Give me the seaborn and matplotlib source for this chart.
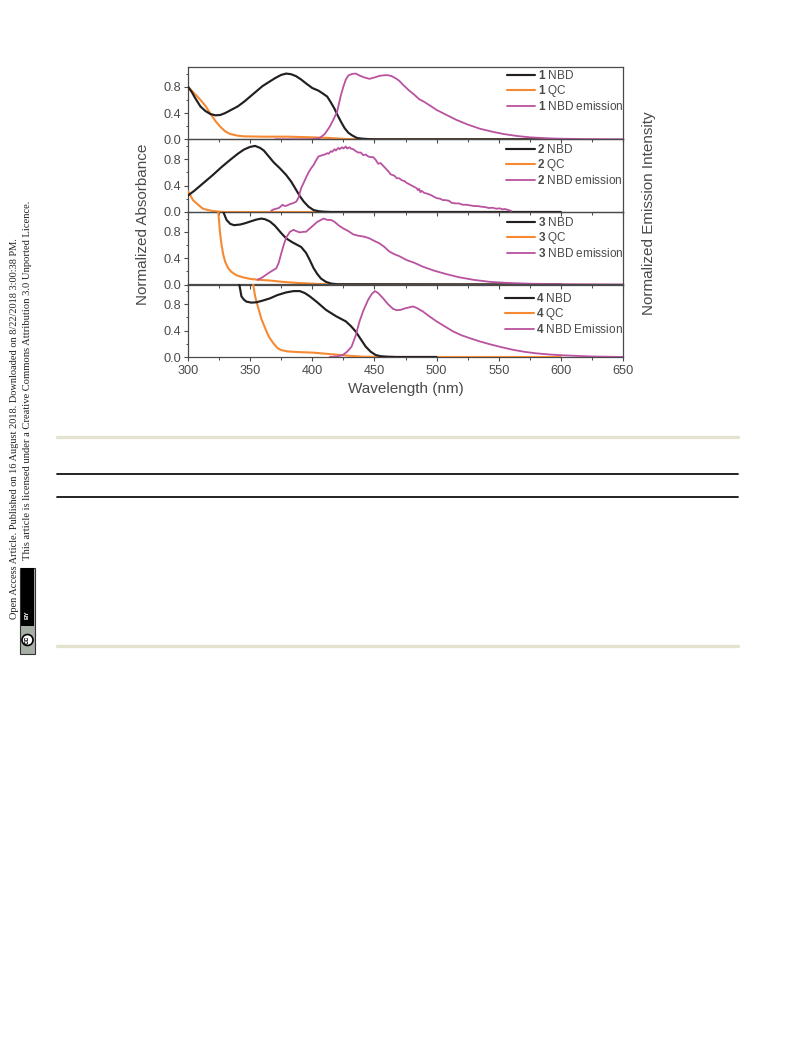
import matplotlib
matplotlib.use("Agg")
import matplotlib.pyplot as plt
import seaborn as sns
from matplotlib.patches import Rectangle, Ellipse
from matplotlib.lines import Line2D
from matplotlib.ticker import MultipleLocator

sns.set_style("ticks")
plt.rcParams["font.family"] = ["Liberation Sans", "DejaVu Sans"]
plt.rcParams["mathtext.fontset"] = "custom"
plt.rcParams["mathtext.bf"] = "Liberation Sans:bold"
plt.rcParams["mathtext.rm"] = "Liberation Sans"

# ---- panel 1
nbd1_x = [300,303,306,310,314,318,322,326,330,335,340,345,350,355,360,365,370,375,379,383,387,391,395,400,405,409,412,415,418,420,423,426,429,432,436,440,445,450,600]
nbd1_y = [.80,.72,.62,.50,.43,.385,.365,.37,.40,.45,.50,.57,.65,.73,.81,.87,.93,.98,1.0,.99,.96,.91,.85,.78,.74,.69,.65,.56,.46,.38,.27,.17,.10,.06,.02,.01,.003,0,0]
qc1_x = [300,305,310,314,318,322,326,330,334,340,345,360,380,400,414,427,440,600]
qc1_y = [.80,.70,.60,.51,.39,.28,.19,.12,.08,.055,.045,.04,.04,.03,.02,.005,0,0]
em1_x = [370,390,400,406,410,414,417,420,423,425,427,429,432,435,438,442,446,450,454,458,461,464,467,470,473,478,482,486,490,495,500,508,516,525,535,545,554,565,575,587,597,620,650]
em1_y = [0,0,.002,.02,.08,.19,.30,.42,.67,.80,.91,.97,.995,1.0,.97,.94,.92,.94,.965,.975,.975,.96,.93,.89,.83,.74,.68,.61,.57,.51,.447,.37,.295,.225,.16,.115,.08,.05,.03,.018,.01,.003,0]

# ---- panel 2
nbd2_x = [300,305,310,315,320,327,334,340,345,350,354,358,361,365,369,374,379,383,387,390,393,397,401,405,409,415,600]
nbd2_y = [.25,.32,.40,.48,.56,.68,.79,.88,.945,.985,1.0,.97,.93,.84,.75,.66,.56,.46,.335,.24,.16,.08,.03,.012,.005,0,0]
qc2_x = [300,302,304,307,310,312,316,320,325,330,600]
qc2_y = [.32,.25,.18,.13,.08,.05,.03,.015,.005,0,0]
em2_x = [367,369,371,373,375,376,378,380,382,384,387,389,391,393,395,397,399,401,403,405,408,410,412,413,415,416,418,419,421,422,424,425,427,428,430,431,433,435,437,439,441,443,445,447,449,451,453,455,457,459,461,463,466,468,470,472,474,476,478,480,482,484,485,486,487,488,490,492,495,497,500,503,505,507,510,512,515,518,521,524,527,530,533,536,539,542,545,548,551,553,555,557,560]
em2_y = [.02,.04,.05,.06,.09,.11,.09,.10,.12,.13,.155,.22,.36,.44,.52,.60,.66,.71,.78,.84,.86,.87,.89,.88,.92,.91,.95,.93,.97,.95,.98,.96,.99,.96,.98,.96,.95,.92,.90,.90,.86,.87,.84,.83,.83,.79,.73,.74,.70,.66,.62,.57,.55,.51,.51,.48,.47,.44,.42,.40,.38,.36,.33,.35,.30,.32,.29,.28,.26,.24,.21,.20,.18,.18,.17,.14,.13,.13,.11,.11,.10,.09,.09,.08,.075,.06,.065,.05,.055,.04,.045,.035,.015]

# ---- panel 3
nbd3_x = [326,328,331,334,337,342,346,350,355,359,362,366,370,375,379,384,388,391,395,398,401,404,407,411,415,420,600]
nbd3_y = [1.3,1.12,.98,.92,.90,.91,.93,.955,.985,1.0,.99,.955,.89,.78,.70,.64,.60,.57,.48,.37,.25,.16,.09,.04,.015,.004,0]
qc3_x = [323,324.4,325.7,327,328.4,330,332.4,335,339,344,350,358,366,376,387,403,417,600]
qc3_y = [1.3,1.10,.80,.60,.45,.34,.245,.19,.14,.11,.085,.07,.06,.04,.025,.01,0,0]
em3_x = [356,360,363,367,371,373,375,377,379,382,385,387,390,393,395,398,401,404,407,409,412,415,418,421,425,429,433,437,442,446,450,454,458,462,466,470,476,482,489,498,508,518,530,543,556,575,600,650]
em3_y = [.07,.11,.15,.20,.245,.33,.47,.60,.71,.80,.83,.81,.79,.80,.80,.85,.90,.95,.98,1.0,.98,.98,.95,.90,.85,.81,.76,.74,.725,.70,.66,.625,.57,.50,.46,.43,.37,.33,.27,.21,.157,.11,.07,.04,.025,.012,.005,0]

# ---- panel 4
nbd4_x = [340,341.3,343,345,347,351,355,360,366,372,379,385,390,394,398,404,411,419,427,431,435,439,443,447,451,455,460,468,500]
nbd4_y = [1.3,1.10,.92,.87,.84,.825,.83,.855,.89,.94,.98,1.0,1.0,.97,.92,.83,.715,.62,.54,.47,.385,.27,.157,.08,.03,.012,.005,0,0]
qc4_x = [351,352.5,354,356.6,359,362,365,368.6,372,375,380,387,401,419.6,430,441,460,600]
qc4_y = [1.3,1.10,.92,.74,.58,.44,.31,.21,.135,.105,.085,.076,.066,.035,.018,.005,0,0]
em4_x = [414,420,424.6,428,431.6,435,438,441,445,448,450.4,453,457,461,465,468,471,475,478.5,481,484,489,494,500,507,513.5,520,527,535,543,552,562,571,580,591,602,625,650]
em4_y = [0,.01,.03,.08,.157,.33,.54,.70,.87,.96,1.0,.97,.89,.80,.73,.71,.715,.74,.755,.767,.745,.69,.62,.54,.46,.386,.33,.284,.235,.193,.15,.107,.078,.056,.038,.025,.008,0]

legend_rows = [["NBD", "QC", "NBD emission"], ["NBD", "QC", "NBD emission"],
               ["NBD", "QC", "NBD emission"], ["NBD", "QC", "NBD Emission"]]
panel_ids = ["1", "2", "3", "4"]
black, orange, magenta = "#231f20", "#f58a33", "#b9529f"
gray = "#4a4a4a"

W, H = 793, 1039
fig = plt.figure(figsize=(W / 100, H / 100), dpi=100, facecolor="white")

def rect(l, t, r, b):
    return [l / W, 1 - b / H, (r - l) / W, (b - t) / H]

edges = [67, 139.3, 212, 284.5, 357]
series = [(nbd1_x, nbd1_y, qc1_x, qc1_y, em1_x, em1_y),
          (nbd2_x, nbd2_y, qc2_x, qc2_y, em2_x, em2_y),
          (nbd3_x, nbd3_y, qc3_x, qc3_y, em3_x, em3_y),
          (nbd4_x, nbd4_y, qc4_x, qc4_y, em4_x, em4_y)]
legend_tops = [69, 143, 216, 292.5]
legend_left = [506.5, 506, 506.5, 505]

for i, (nx, ny, qx, qy, ex, ey) in enumerate(series):
    ax = fig.add_axes(rect(188, edges[i], 623, edges[i + 1]))
    ax.patch.set_alpha(0)
    rows = legend_rows[i]
    pid = panel_ids[i]
    sns.lineplot(x=nx, y=ny, ax=ax, color=black, lw=1.55, zorder=4, estimator=None, sort=False,
                 label=rf"$\mathbf{{{pid}}}$ {rows[0]}")
    sns.lineplot(x=qx, y=qy, ax=ax, color=orange, lw=1.5, zorder=3.5, estimator=None, sort=False,
                 label=rf"$\mathbf{{{pid}}}$ {rows[1]}")
    sns.lineplot(x=ex, y=ey, ax=ax, color=magenta, lw=1.3, zorder=5, estimator=None, sort=False,
                 label=rf"$\mathbf{{{pid}}}$ {rows[2]}")
    ax.set_xlim(300, 650)
    ax.set_ylim(0, 1.10)
    ax.xaxis.set_major_locator(MultipleLocator(50))
    ax.xaxis.set_minor_locator(MultipleLocator(25))
    ax.yaxis.set_major_locator(MultipleLocator(0.4))
    ax.yaxis.set_minor_locator(MultipleLocator(0.2))
    ax.tick_params(axis="both", which="major", length=3.2, width=0.8, color=gray,
                   labelcolor=gray, labelsize=9.2, pad=2)
    ax.tick_params(axis="both", which="minor", length=1.8, width=0.7, color=gray)
    for s in ax.spines.values():
        s.set_color(gray)
        s.set_linewidth(0.9)
    ax.spines["top"].set_visible(True)
    ax.spines["right"].set_visible(True)
    if i < 3:
        ax.tick_params(axis="x", labelbottom=False)
    else:
        ax.tick_params(axis="x", pad=2.5)
        ax.set_xlabel("Wavelength (nm)", fontsize=11, color=gray, labelpad=3.5)
    leg = ax.legend(loc="upper left",
                    bbox_to_anchor=((legend_left[i] - 188) / 435,
                                    1 - (legend_tops[i] - edges[i]) / (edges[i + 1] - edges[i])),
                    frameon=False, fontsize=8.5, labelspacing=0.08, handlelength=2.45,
                    handletextpad=0.2, borderpad=0, borderaxespad=0, labelcolor=gray)
    leg.set_zorder(6)

fig.text(143 / W, 1 - 224 / H, "Normalized Absorbance", rotation=90, ha="center", va="center",
         fontsize=11, color=gray)
fig.text(649 / W, 1 - 213 / H, "Normalized Emission Intensity", rotation=90, ha="center", va="center",
         fontsize=11, color=gray)

# ---- page furniture around the figure
def hline(y, color, lw):
    fig.add_artist(Line2D([57 / W, 738 / W], [1 - y / H, 1 - y / H], color=color, lw=lw))

hline(437, "#e3e3cf", 2.4)
hline(474, "#111111", 1.3)
hline(497, "#111111", 1.3)
hline(646, "#e3e3cf", 2.4)

fig.text(14.5 / W, 1 - 619 / H,
         "Open Access Article. Published on 16 August 2018. Downloaded on 8/22/2018 3:00:38 PM.",
         rotation=90, ha="center", va="bottom", fontsize=7.45, family="Liberation Serif", color="#222222")
fig.text(27.5 / W, 1 - 560 / H,
         "This article is licensed under a Creative Commons Attribution 3.0 Unported Licence.",
         rotation=90, ha="center", va="bottom", fontsize=7.6, family="Liberation Serif", color="#222222")

fig.add_artist(Rectangle((20 / W, 1 - 654 / H), 15 / W, 86 / H, transform=fig.transFigure,
                         facecolor="#a6aea6", edgecolor="#333333", lw=0.8))
fig.add_artist(Rectangle((21 / W, 1 - 626 / H), 13 / W, 58 / H, transform=fig.transFigure,
                         facecolor="black", edgecolor="none"))
fig.add_artist(Ellipse((27.5 / W, 1 - 640 / H), 11 / W, 11 / H, transform=fig.transFigure,
                       facecolor="white", edgecolor="black", lw=1.2))
fig.text(27.5 / W, 1 - 615 / H, "BY", rotation=90, ha="center", va="center", fontsize=4.5,
         color="white", fontweight="bold")
fig.text(27.5 / W, 1 - 640 / H, "cc", rotation=90, ha="center", va="center", fontsize=5.5,
         color="black", fontweight="bold")

fig.savefig("out.png", dpi=100, facecolor="white")
